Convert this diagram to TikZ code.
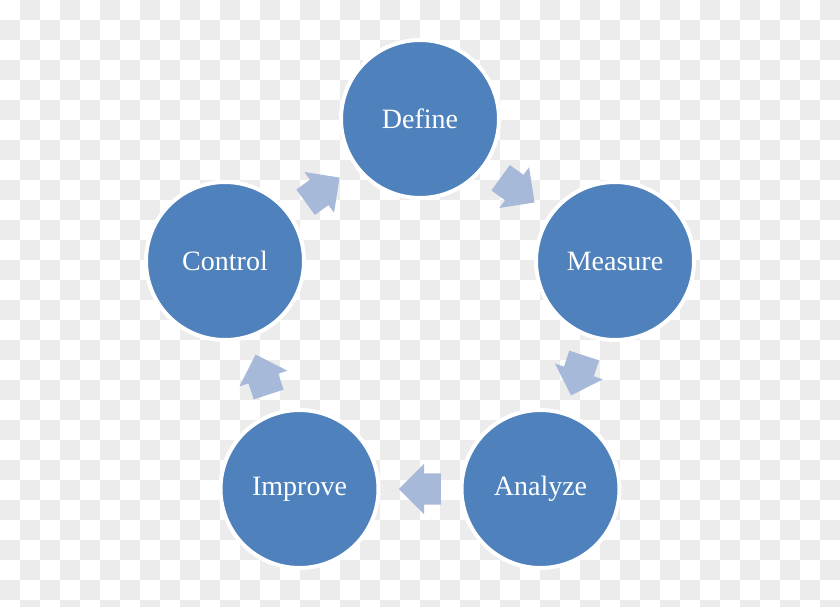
\documentclass[tikz,border=0pt]{standalone}
\usepackage{fontspec}
\setmainfont{Liberation Serif}
\usepackage{tikz}
\usetikzlibrary{shapes.arrows}
\usepackage{xcolor}
\definecolor{stageblue}{RGB}{79,129,189}
\definecolor{arrowblue}{RGB}{167,185,216}
\definecolor{checker}{RGB}{236,236,236}

\tikzset{
  stage/.style={circle, fill=stageblue, draw=white, line width=4pt, minimum size=158pt, inner sep=0pt,
    text=white, font=\fontsize{28}{32}\selectfont},
  cyclearrow/.style={single arrow, fill=arrowblue, draw=none, minimum height=42pt,
    inner xsep=0pt, inner ysep=15.5pt, text height=0pt, text depth=0pt,
    single arrow head extend=9.5pt, single arrow head indent=0pt,
    sloped, allow upside down, anchor=tail, pos=0.234}
}

\begin{document}
\begin{tikzpicture}[x=1pt, y=-1pt]
  \useasboundingbox (0,0) rectangle (840,606);
  \clip (0,0) rectangle (840,606);
  \foreach \i in {0,2,...,40}
    \foreach \j in {0,2,...,30} {
      \fill[checker] (\i*20+20,\j*20) rectangle +(20,20);
      \fill[checker] (\i*20,\j*20+20) rectangle +(20,20);
    }
  \node[stage] (def) at (420,119) {Define};
  \node[stage] (mea) at (615,261) {Measure};
  \node[stage] (ana) at (540.5,489) {Analyze};
  \node[stage] (imp) at (299.5,489) {Improve};
  \node[stage] (con) at (225,261) {Control};
  \path (def) -- node[cyclearrow] (a1) {} (mea);
  \path (mea) -- node[cyclearrow] (a2) {} (ana);
  \path (ana) -- node[cyclearrow] (a3) {} (imp);
  \path (imp) -- node[cyclearrow] (a4) {} (con);
  \path (con) -- node[cyclearrow] (a5) {} (def);
\end{tikzpicture}
\end{document}
